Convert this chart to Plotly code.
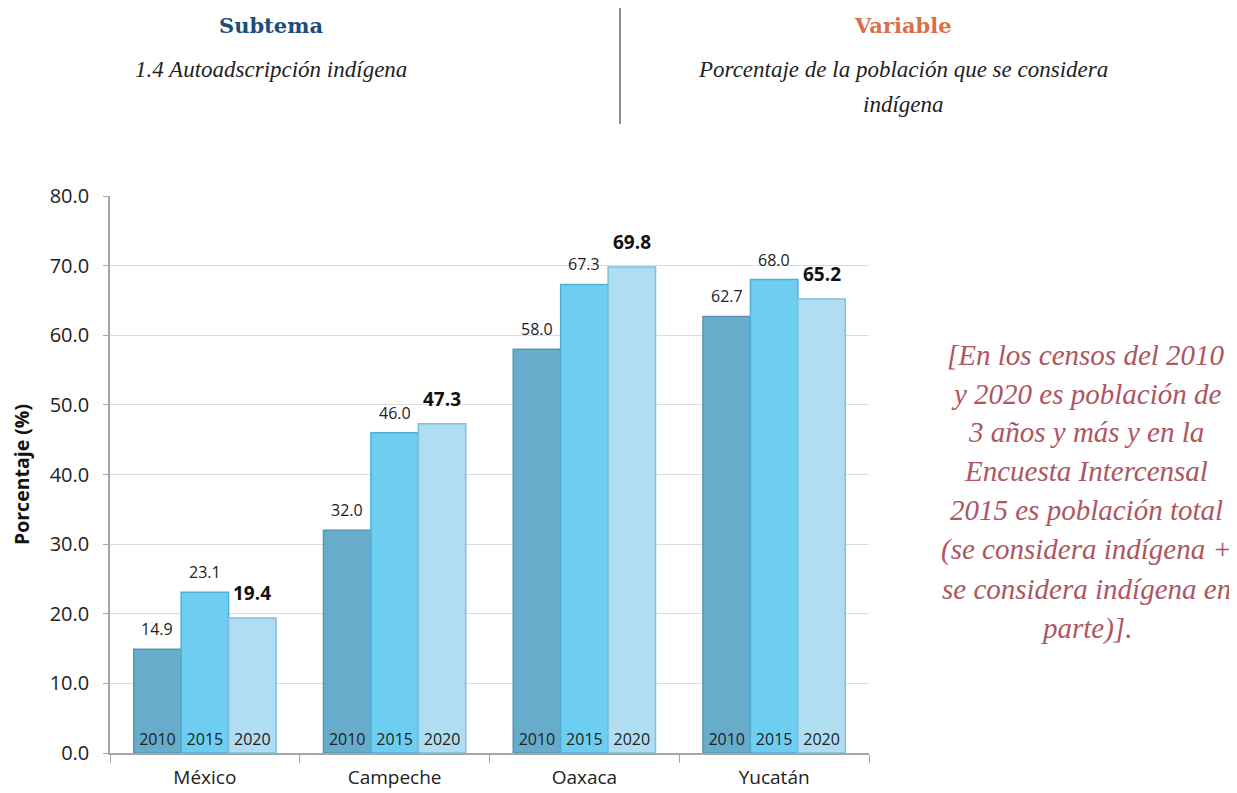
import plotly.graph_objects as go

categories = ["México", "Campeche", "Oaxaca", "Yucatán"]
years = ["2010", "2015", "2020"]
values_2010 = [14.9, 32.0, 58.0, 62.7]
values_2015 = [23.1, 46.0, 67.3, 68.0]
values_2020 = [19.4, 47.3, 69.8, 65.2]
y_ticks = [0, 10, 20, 30, 40, 50, 60, 70, 80]

series = [values_2010, values_2015, values_2020]
fills = ["#67ACCA", "#6DCEF1", "#B1DDF2"]
lines = ["#5796B4", "#4FAFD6", "#7CC0DE"]

OFF = 8  # page body margin
W, H = 1237 - OFF, 793 - OFF
# plot area in screen pixels
L, R, T, B = 110, 869, 196, 753

def px(x):
    return (x - L) / (R - L)

def py(y):
    return (B - y) / (B - T)

BARGAP = 0.25
bar_px = (R - L) / len(categories) * (1 - BARGAP) / len(years)

fig = go.Figure()
for i, (yr, vals) in enumerate(zip(years, series)):
    fig.add_trace(go.Bar(
        x=categories, y=vals, name=yr, offsetgroup=yr,
        marker=dict(color=fills[i], line=dict(color=lines[i], width=1.5)),
        text=[yr] * len(vals), textposition="inside", insidetextanchor="start",
        textangle=0, constraintext="none",
        insidetextfont=dict(family="Open Sans", size=16, color="#222"),
        showlegend=False,
    ))

ann = []
for i, vals in enumerate(series):
    bold = i == 2
    for c, v in zip(categories, vals):
        ann.append(dict(
            x=c, y=v, xref="x", yref="y", showarrow=False,
            xshift=(i - 1) * bar_px, yshift=25 if bold else 20, yanchor="middle",
            text=f"<b>{v:.1f}</b>" if bold else f"{v:.1f}",
            font=dict(family="Open Sans", size=19 if bold else 16, color="#111" if bold else "#222"),
        ))

fig.update_layout(
    width=W, height=H, barmode="group", bargap=BARGAP, bargroupgap=0,
    plot_bgcolor="white", paper_bgcolor="white",
    margin=dict(l=L - OFF, r=W - (R - OFF), t=T - OFF, b=H - (B - OFF), autoexpand=False),
    font=dict(family="Open Sans", color="#222"),
)
fig.update_xaxes(
    type="category", range=[-0.5, 3.5], showline=True, linecolor="#A6A6A6", linewidth=1.5,
    ticks="outside", tickson="boundaries", ticklen=8, tickcolor="#A6A6A6", ticklabelstandoff=6,
    tickfont=dict(family="Open Sans", size=19, color="#222"), showgrid=False, automargin=False,
)
fig.update_yaxes(
    range=[0, 80], tickvals=y_ticks, tickformat=".1f", showline=True, linecolor="#A6A6A6", linewidth=1.5,
    ticks="outside", ticklen=5, tickcolor="#A6A6A6", ticklabelstandoff=10,
    showgrid=True, gridcolor="#DCDCDC", gridwidth=1, automargin=False,
    zeroline=False, tickfont=dict(family="Open Sans", size=20, color="#222"),
    title=dict(text="<b>Porcentaje (%)</b>", font=dict(family="Open Sans", size=19.5, color="#111"), standoff=15),
)

hdr = []
hdr.append(dict(x=px(271), y=py(25), text="<b>Subtema</b>", font=dict(family="DejaVu Serif", size=21, color="#1D4E79")))
hdr.append(dict(x=px(271), y=py(70), text="<i>1.4 Autoadscripción indígena</i>", font=dict(family="Liberation Serif", size=23, color="#222")))
hdr.append(dict(x=px(903), y=py(25), text="<b>Variable</b>", font=dict(family="DejaVu Serif", size=21, color="#D8714B")))
hdr.append(dict(x=px(903), y=py(70), text="<i>Porcentaje de la población que se considera</i>", font=dict(family="Liberation Serif", size=23, color="#222")))
hdr.append(dict(x=px(903), y=py(104), text="<i>indígena</i>", font=dict(family="Liberation Serif", size=23, color="#222")))

note_lines = ["[En los censos del 2010", "y 2020 es población de", "3 años y más y en la",
              "Encuesta Intercensal", "2015 es población total", "(se considera indígena +",
              "se considera indígena en", "parte)]."]
note_y = [355, 394, 432, 471, 510, 549, 589, 628]
for t, yy in zip(note_lines, note_y):
    hdr.append(dict(x=px(1086), y=py(yy), text=f"<i>{t}</i>", font=dict(family="Liberation Serif", size=29, color="#AE5661")))

for a in hdr:
    a.update(xref="paper", yref="paper", showarrow=False, xanchor="center", yanchor="middle")
fig.update_layout(annotations=ann + hdr)

fig.add_shape(type="line", xref="paper", yref="paper", x0=px(620), x1=px(620), y0=py(3), y1=py(124),
              line=dict(color="#444", width=1.2))

fig.write_html("out.html")
